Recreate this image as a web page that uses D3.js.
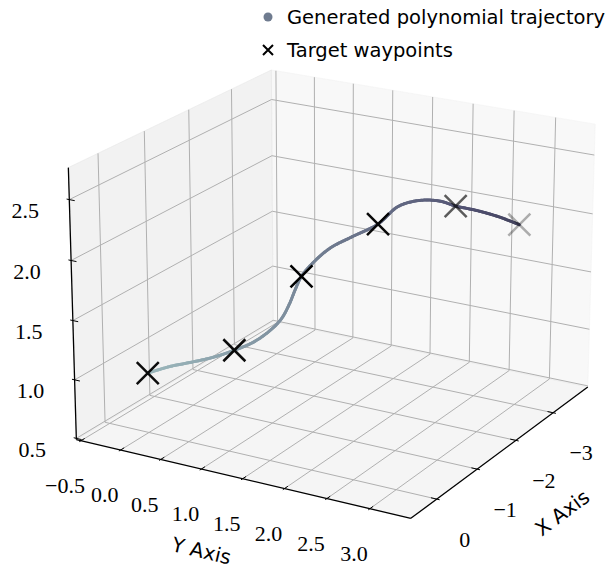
<!DOCTYPE html>
<html>
<head>
<meta charset="utf-8">
<script src="https://cdn.jsdelivr.net/npm/d3@7"></script>
<style>body{margin:0;background:#fff}</style>
</head>
<body>
<svg id="chart" width="615" height="569"></svg>
<script>
const width = 615, height = 569;

// target waypoints (x, y, z)
const wpX = [0, -0.6, -1.2, -1.9, -2.9, -3.7];
const wpY = [0, 0.75, 1.264, 1.84, 2.298, 2.71];
const wpZ = [1.0, 1.17, 1.739, 2.112, 2.125, 1.861];

// generated trajectory samples
const trajT = [0, 0.25, 0.5, 0.75, 1, 1.25, 1.47, 1.62, 1.75, 1.87, 2, 2.2, 2.45, 2.7, 3, 3.2, 3.45, 3.72, 4, 4.25, 4.6, 5];
const trajX = [0, -0.15, -0.3, -0.45, -0.6, -0.75, -0.88, -0.97, -1.05, -1.12, -1.2, -1.32, -1.47, -1.64, -1.9, -2.1, -2.35, -2.6, -2.9, -3.1, -3.4, -3.7];
const trajY = [0, 0.204, 0.376, 0.571, 0.75, 0.905, 1.054, 1.14, 1.194, 1.23, 1.264, 1.333, 1.474, 1.655, 1.84, 1.987, 2.133, 2.255, 2.298, 2.446, 2.588, 2.71];
const trajZ = [1.0, 1.054, 1.08, 1.118, 1.17, 1.228, 1.326, 1.416, 1.529, 1.641, 1.739, 1.83, 1.948, 2.033, 2.112, 2.24, 2.26, 2.219, 2.125, 2.07, 1.974, 1.861];

const xTicks = [-3, -2, -1, 0];
const yTicks = [-0.5, 0, 0.5, 1, 1.5, 2, 2.5, 3];
const zTicks = [0.5, 1, 1.5, 2, 2.5];

const xLim = [-3.97, 0.62], yLim = [-0.56, 3.47], zLim = [0.49, 2.76];

const legendLabels = ["Generated polynomial trajectory", "Target waypoints"];

const svg = d3.select("#chart");

// camera, matplotlib-style perspective (dist 10, focal length 1, box 4:4:3)
const elev = 20.25, azim = 30;
const ox = 337.02, oy = 281.08, k = 3323.2;

const boxAspect = (() => {
  const a = [4, 4, 3], n = Math.hypot(...a);
  return a.map(v => v * 1.8294640721620434 / n);
})();
const dot = (a, b) => a[0] * b[0] + a[1] * b[1] + a[2] * b[2];
const cross = (a, b) => [a[1] * b[2] - a[2] * b[1], a[2] * b[0] - a[0] * b[2], a[0] * b[1] - a[1] * b[0]];
const unit = a => { const n = Math.hypot(...a); return a.map(v => v / n); };

function makeProj(elev, azim) {
  const e = elev * Math.PI / 180, a = azim * Math.PI / 180;
  const ps = [Math.cos(e) * Math.cos(a), Math.cos(e) * Math.sin(a), Math.sin(e)];
  const eye = boxAspect.map((b, i) => b / 2 + 10 * ps[i]);
  const w = ps, u = unit(cross([0, 0, 1], w)), v = cross(w, u);
  const sx = d3.scaleLinear().domain(xLim).range([0, boxAspect[0]]);
  const sy = d3.scaleLinear().domain(yLim).range([0, boxAspect[1]]);
  const sz = d3.scaleLinear().domain(zLim).range([0, boxAspect[2]]);
  return (x, y, z) => {
    const d = [sx(x) - eye[0], sy(y) - eye[1], sz(z) - eye[2]];
    const h = -dot(w, d);
    return [dot(u, d) / h, dot(v, d) / h, h];
  };
}

const proj3 = makeProj(elev, azim);
function P(x, y, z) {
  const q = proj3(x, y, z);
  return [ox + k * q[0], oy - k * q[1], q[2]];
}

// panes
const panes = [
  {fill: "#f2f2f2", pts: [[xLim[0], yLim[0], zLim[0]], [xLim[0], yLim[1], zLim[0]], [xLim[0], yLim[1], zLim[1]], [xLim[0], yLim[0], zLim[1]]]},
  {fill: "#e6e6e6", pts: [[xLim[0], yLim[0], zLim[0]], [xLim[1], yLim[0], zLim[0]], [xLim[1], yLim[0], zLim[1]], [xLim[0], yLim[0], zLim[1]]]},
  {fill: "#ececec", pts: [[xLim[0], yLim[0], zLim[0]], [xLim[1], yLim[0], zLim[0]], [xLim[1], yLim[1], zLim[0]], [xLim[0], yLim[1], zLim[0]]]}
];
svg.selectAll("polygon.pane")
  .data(panes)
  .join("polygon")
  .attr("class", "pane")
  .attr("points", d => d.pts.map(p => P(...p).slice(0, 2).join(",")).join(" "))
  .attr("fill", d => d.fill)
  .attr("fill-opacity", 0.5)
  .attr("stroke", d => d.fill)
  .attr("stroke-opacity", 0.5);

// grid lines
const grid = [];
xTicks.forEach(x => {
  grid.push([[x, yLim[0], zLim[0]], [x, yLim[1], zLim[0]]]);
  grid.push([[x, yLim[0], zLim[0]], [x, yLim[0], zLim[1]]]);
});
yTicks.forEach(y => {
  grid.push([[xLim[0], y, zLim[0]], [xLim[1], y, zLim[0]]]);
  grid.push([[xLim[0], y, zLim[0]], [xLim[0], y, zLim[1]]]);
});
zTicks.forEach(z => {
  grid.push([[xLim[0], yLim[0], z], [xLim[1], yLim[0], z]]);
  grid.push([[xLim[0], yLim[0], z], [xLim[0], yLim[1], z]]);
});
svg.append("g").selectAll("line")
  .data(grid)
  .join("line")
  .attr("x1", d => P(...d[0])[0]).attr("y1", d => P(...d[0])[1])
  .attr("x2", d => P(...d[1])[0]).attr("y2", d => P(...d[1])[1])
  .attr("stroke", "#b0b0b0")
  .attr("stroke-width", 1);

// axis lines
const axisLines = [
  [[xLim[1], yLim[0], zLim[0]], [xLim[1], yLim[1], zLim[0]]],
  [[xLim[1], yLim[1], zLim[0]], [xLim[0], yLim[1], zLim[0]]],
  [[xLim[1], yLim[0], zLim[0]], [xLim[1], yLim[0], zLim[1]]]
];
svg.append("g").selectAll("line")
  .data(axisLines)
  .join("line")
  .attr("x1", d => P(...d[0])[0]).attr("y1", d => P(...d[0])[1])
  .attr("x2", d => P(...d[1])[0]).attr("y2", d => P(...d[1])[1])
  .attr("stroke", "#000")
  .attr("stroke-width", 1.3);

const dX = (xLim[1] - xLim[0]) / 12, dY = (yLim[1] - yLim[0]) / 12;
const tickSegs = [];
yTicks.forEach(y => tickSegs.push([[xLim[1] + 0.1 * dX, y, zLim[0]], [xLim[1] - 0.2 * dX, y, zLim[0]]]));
xTicks.forEach(x => tickSegs.push([[x, yLim[1] + 0.1 * dY, zLim[0]], [x, yLim[1] - 0.2 * dY, zLim[0]]]));
zTicks.forEach(z => tickSegs.push([[xLim[1], yLim[0] - 0.1 * dY, z], [xLim[1], yLim[0] + 0.2 * dY, z]]));
svg.append("g").selectAll("line")
  .data(tickSegs)
  .join("line")
  .attr("x1", d => P(...d[0])[0]).attr("y1", d => P(...d[0])[1])
  .attr("x2", d => P(...d[1])[0]).attr("y2", d => P(...d[1])[1])
  .attr("stroke", "#000")
  .attr("stroke-width", 1);

// tick labels
const fmtMinus = s => s.replace("-", "\u2212");
const tickFont = "'Liberation Serif', serif";
const tickLabels = [];
yTicks.forEach(y => tickLabels.push({p: P(xLim[1], y, zLim[0]), dx: -16, dy: 45, t: fmtMinus(d3.format(".1f")(y))}));
xTicks.forEach(x => tickLabels.push({p: P(x, yLim[1], zLim[0]), dx: 28, dy: 40, t: fmtMinus(d3.format("d")(x))}));
zTicks.forEach(z => tickLabels.push({p: P(xLim[1], yLim[0], z), dx: -44, dy: 11, t: d3.format(".1f")(z)}));
svg.append("g").selectAll("text")
  .data(tickLabels)
  .join("text")
  .attr("x", d => d.p[0] + d.dx)
  .attr("y", d => d.p[1] + d.dy)
  .attr("text-anchor", "middle")
  .attr("dominant-baseline", "central")
  .style("font-family", tickFont)
  .style("font-size", "22px")
  .text(d => d.t);

// axis titles
function axisTitle(a, b, dx, dy, label) {
  const p = P(...a), q = P(...b);
  const ang = Math.atan2(q[1] - p[1], q[0] - p[0]) * 180 / Math.PI;
  const cx = (p[0] + q[0]) / 2 + dx, cy = (p[1] + q[1]) / 2 + dy;
  svg.append("text")
    .attr("transform", `translate(${cx},${cy}) rotate(${ang > 90 ? ang - 180 : ang})`)
    .attr("text-anchor", "middle")
    .attr("dominant-baseline", "central")
    .style("font-family", "'DejaVu Sans', sans-serif")
    .style("font-size", "20px")
    .text(label);
}
axisTitle([xLim[1], yLim[0], zLim[0]], [xLim[1], yLim[1], zLim[0]], -42, 72, "Y Axis");
axisTitle([xLim[1], yLim[1], zLim[0]], [xLim[0], yLim[1], zLim[0]], 63, 60, "X Axis");

// colormap: bone, from 0.7 down to 0.3 along the trajectory
const trajColor = d3.scaleLinear()
  .domain([0, 0.8375, 1])
  .range(["#9cb8bc", "#515171", "#43435d"])
  .interpolate(d3.interpolateRgb);

const tMax = d3.max(trajT);
const pts = trajT.map((t, i) => P(trajX[i], trajY[i], trajZ[i]));
const cum = [0];
for (let i = 1; i < pts.length; i++) cum.push(cum[i - 1] + Math.hypot(pts[i][0] - pts[i - 1][0], pts[i][1] - pts[i - 1][1]));
const lenToT = d3.scaleLinear().domain(cum.map(c => c / cum[cum.length - 1])).range(trajT);

const guide = svg.append("path")
  .attr("d", d3.line().curve(d3.curveCatmullRom.alpha(0.5))(pts.map(p => [p[0], p[1]])))
  .attr("fill", "none");
const total = guide.node().getTotalLength();
const segs = [];
const stepLen = 1.5;
let prev = guide.node().getPointAtLength(0);
for (let l = stepLen; l <= total + stepLen; l += stepLen) {
  const cur = guide.node().getPointAtLength(Math.min(l, total));
  segs.push({a: prev, b: cur, t: lenToT(Math.min(l, total) / total)});
  prev = cur;
}
guide.remove();
svg.append("g").selectAll("line")
  .data(segs)
  .join("line")
  .attr("x1", d => d.a.x).attr("y1", d => d.a.y)
  .attr("x2", d => d.b.x).attr("y2", d => d.b.y)
  .attr("stroke", d => trajColor(d.t / tMax))
  .attr("stroke-width", 3)
  .attr("stroke-linecap", "round");

// waypoints with depth shading
const wp = wpX.map((x, i) => P(x, wpY[i], wpZ[i]));
const depth = d3.scaleLinear().domain(d3.extent(wp, d => d[2])).range([1, 0.3]);
svg.append("g").selectAll("path")
  .data(wp)
  .join("path")
  .attr("transform", d => `translate(${d[0]},${d[1]})`)
  .attr("d", "M-11,-11L11,11M-11,11L11,-11")
  .attr("stroke", "#000")
  .attr("stroke-width", 2.5)
  .attr("opacity", d => depth(d[2]));

// legend
const legend = svg.append("g");
legend.append("circle").attr("cx", 268).attr("cy", 17).attr("r", 4.5).attr("fill", trajColor(0.5));
legend.append("path").attr("transform", "translate(268,50)").attr("d", "M-5,-5L5,5M-5,5L5,-5")
  .attr("stroke", "#000").attr("stroke-width", 2);
legend.selectAll("text")
  .data(legendLabels)
  .join("text")
  .attr("x", 287)
  .attr("y", (d, i) => 17 + i * 33)
  .attr("dominant-baseline", "central")
  .style("font-family", "'DejaVu Sans', sans-serif")
  .style("font-size", "19.5px")
  .text(d => d);
</script>
</body>
</html>
